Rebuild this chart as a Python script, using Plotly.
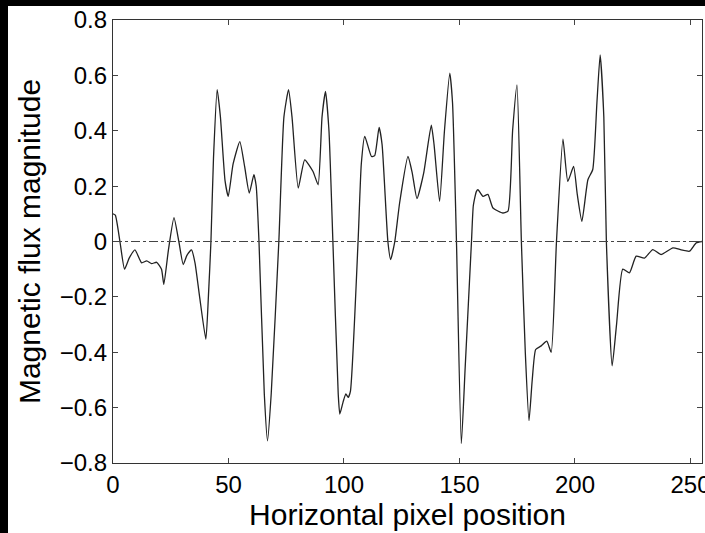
import plotly.graph_objects as go

# Horizontal pixel position
x_pos = [0, 1, 3, 5, 7, 9.5, 12.4, 14.6, 16.7, 18.9, 21, 22, 24, 26.4, 28.5, 30.4, 32, 34, 35.5, 37.5,
         40.2, 41.3, 42.4, 43.5, 45.1, 46.5, 48.5, 49.9, 52, 54.9, 57, 59, 61, 62, 63.2, 65.5, 66.9, 68.5,
         71.8, 74, 76, 77.5, 80.2, 83, 86.6, 88.8, 90.5, 92, 93.5, 95.2, 97.5, 98.2, 99.6, 100.8, 101.8,
         102.8, 106.1, 107.5, 109, 111.9, 113.3, 115.2, 116.5, 119, 120.2, 122, 124.1, 127.7, 129.5, 131.6,
         134.5, 137.8, 139, 141.4, 143.5, 145.8, 147, 148.7, 150.8, 152.5, 155.2, 156, 157.3, 158, 160.2,
         162.3, 164.5, 168.8, 171, 173, 174.9, 176.8, 178.5, 180.1, 181.5, 183, 185.4, 187.8, 189.7, 192,
         194.8, 196.9, 199.4, 201, 203, 205.6, 207.7, 209.5, 210.9, 212.5, 213.6, 216.1, 218, 220.7, 223.6,
         226.5, 230.1, 233.7, 237.3, 242.4, 246, 249.6, 252.5, 255]
# Magnetic flux magnitude
flux = [0.10, 0.095, 0.0, -0.10, -0.06, -0.03, -0.077, -0.07, -0.08, -0.075, -0.10, -0.155, -0.03, 0.086, 0.0,
        -0.083, -0.05, -0.03, -0.077, -0.2, -0.353, -0.2, 0.0, 0.3, 0.548, 0.45, 0.22, 0.163, 0.28, 0.361,
        0.27, 0.175, 0.241, 0.2, 0.0, -0.55, -0.72, -0.55, 0.0, 0.45, 0.548, 0.45, 0.193, 0.295, 0.253, 0.205,
        0.45, 0.542, 0.4, 0.0, -0.55, -0.623, -0.58, -0.55, -0.563, -0.54, 0.0, 0.28, 0.38, 0.307, 0.31,
        0.412, 0.35, 0.0, -0.065, 0.0, 0.14, 0.307, 0.25, 0.155, 0.247, 0.42, 0.35, 0.145, 0.4, 0.608, 0.5,
        0.0, -0.73, -0.45, 0.0, 0.13, 0.18, 0.187, 0.163, 0.17, 0.121, 0.103, 0.11, 0.4, 0.566, 0.0, -0.4,
        -0.647, -0.5, -0.39, -0.377, -0.36, -0.40, 0.0, 0.37, 0.217, 0.271, 0.17, 0.073, 0.223, 0.26, 0.5,
        0.674, 0.45, 0.0, -0.449, -0.3, -0.10, -0.113, -0.053, -0.06, -0.029, -0.047, -0.023, -0.03, -0.035,
        -0.005, 0.0]

x_ticks = [0, 50, 100, 150, 200, 250]
y_ticks = [-0.8, -0.6, -0.4, -0.2, 0, 0.2, 0.4, 0.6, 0.8]
y_tick_text = ["\u22120.8", "\u22120.6", "\u22120.4", "\u22120.2", "0", "0.2", "0.4", "0.6", "0.8"]

fig = go.Figure()
fig.add_trace(go.Scatter(x=x_pos, y=flux, mode="lines",
                         line=dict(color="#222222", width=1.3, shape="spline", smoothing=0.5),
                         showlegend=False))
fig.add_hline(y=0, line=dict(color="#444444", width=1.2, dash="dashdot"))

font = "Liberation Sans, Arial, Helvetica, sans-serif"
fig.update_layout(
    width=705, height=533,
    margin=dict(l=113, r=3, t=20, b=70, autoexpand=False),
    paper_bgcolor="white", plot_bgcolor="white",
    font=dict(family=font, color="black"),
    xaxis=dict(range=[0, 255], tickvals=x_ticks, ticks="inside", ticklen=5,
               ticklabeloverflow="allow", automargin=False,
               showline=True, linecolor="#333333", linewidth=1.2, mirror="allticks",
               showgrid=False, zeroline=False, tickfont=dict(size=24),
               title=dict(text="Horizontal pixel position", font=dict(size=30), standoff=4)),
    yaxis=dict(range=[-0.8, 0.8], tickvals=y_ticks, ticktext=y_tick_text, ticks="inside", ticklen=5,
               automargin=False,
               showline=True, linecolor="#333333", linewidth=1.2, mirror="allticks",
               showgrid=False, zeroline=False, tickfont=dict(size=24),
               title=dict(text="Magnetic flux magnitude", font=dict(size=30), standoff=10)),
)
# black frame bands at the top and left edges of the picture
fig.add_shape(type="rect", xref="paper", yref="paper", x0=-115/589, x1=1.01,
              y0=1 + 14/443, y1=1 + 22/443, fillcolor="black", line_width=0, layer="above")
fig.add_shape(type="rect", xref="paper", yref="paper", x0=-115/589, x1=-105/589,
              y0=-72/443, y1=1 + 22/443, fillcolor="black", line_width=0, layer="above")

fig.write_html("out.html", config={"displayModeBar": False},
               post_script="document.body.style.margin='0';")
